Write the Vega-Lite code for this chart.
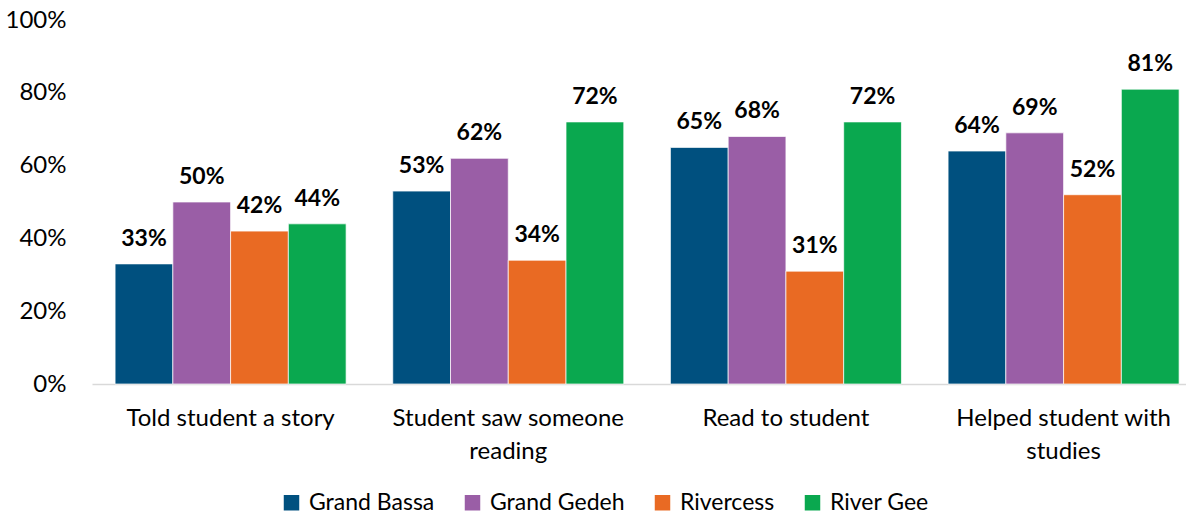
{
  "$schema": "https://vega.github.io/schema/vega-lite/v6.json",
  "autosize": {"type": "none"},
  "width": 1094,
  "height": 364,
  "padding": {"left": 92, "top": 20, "right": 0, "bottom": 132},
  "background": "white",
  "config": {"view": {"stroke": null}, "font": "Lato"},
  "data": {
    "values": [
      {"cat": "Told student a story", "region": "Grand Bassa", "v": 0.33},
      {"cat": "Told student a story", "region": "Grand Gedeh", "v": 0.50},
      {"cat": "Told student a story", "region": "Rivercess", "v": 0.42},
      {"cat": "Told student a story", "region": "River Gee", "v": 0.44},
      {"cat": "Student saw someone reading", "region": "Grand Bassa", "v": 0.53},
      {"cat": "Student saw someone reading", "region": "Grand Gedeh", "v": 0.62},
      {"cat": "Student saw someone reading", "region": "Rivercess", "v": 0.34},
      {"cat": "Student saw someone reading", "region": "River Gee", "v": 0.72},
      {"cat": "Read to student", "region": "Grand Bassa", "v": 0.65},
      {"cat": "Read to student", "region": "Grand Gedeh", "v": 0.68},
      {"cat": "Read to student", "region": "Rivercess", "v": 0.31},
      {"cat": "Read to student", "region": "River Gee", "v": 0.72},
      {"cat": "Helped student with studies", "region": "Grand Bassa", "v": 0.64},
      {"cat": "Helped student with studies", "region": "Grand Gedeh", "v": 0.69},
      {"cat": "Helped student with studies", "region": "Rivercess", "v": 0.52},
      {"cat": "Helped student with studies", "region": "River Gee", "v": 0.81}
    ]
  },
  "encoding": {
    "x": {
      "field": "cat", "type": "nominal",
      "sort": ["Told student a story", "Student saw someone reading", "Read to student", "Helped student with studies"],
      "scale": {"paddingInner": 0.168, "paddingOuter": 0.054, "align": 0.77},
      "axis": {
        "title": null, "labelAngle": 0, "labelFontSize": 24, "labelColor": "#000000",
        "labelPadding": 34, "labelLimit": 0, "ticks": false, "domainColor": "#d9d9d9", "domainWidth": 1.5,
        "labelLineHeight": 33, "labelBaseline": "middle",
        "labelExpr": "datum.label == 'Student saw someone reading' ? ['Student saw someone', 'reading'] : datum.label == 'Helped student with studies' ? ['Helped student with', 'studies'] : datum.label"
      }
    },
    "xOffset": {"field": "region", "type": "nominal", "sort": ["Grand Bassa", "Grand Gedeh", "Rivercess", "River Gee"]},
    "y": {
      "field": "v", "type": "quantitative",
      "scale": {"domain": [0, 1], "nice": false},
      "axis": {
        "title": null, "values": [0, 0.2, 0.4, 0.6, 0.8, 1], "format": ".0%",
        "labelFontSize": 24, "labelColor": "#000000", "grid": false, "domain": false, "ticks": false,
        "labelPadding": 26
      }
    }
  },
  "layer": [
    {
      "mark": {"type": "bar", "stroke": "white", "strokeWidth": 0.7},
      "encoding": {
        "color": {
          "field": "region", "type": "nominal",
          "sort": ["Grand Bassa", "Grand Gedeh", "Rivercess", "River Gee"],
          "scale": {"domain": ["Grand Bassa", "Grand Gedeh", "Rivercess", "River Gee"], "range": ["#00507F", "#9A5EA6", "#E96A23", "#0AA84F"]},
          "legend": {
            "title": null, "orient": "none", "direction": "horizontal",
            "legendX": 188, "legendY": 471, "labelFontSize": 23, "labelColor": "#000000",
            "symbolType": "square", "symbolSize": 240, "symbolStrokeWidth": 0, "columnPadding": 26, "labelOffset": 6
          }
        }
      }
    },
    {
      "mark": {"type": "text", "fontWeight": "bold", "fontSize": 23, "baseline": "alphabetic", "dy": -18, "color": "#000000"},
      "encoding": {"text": {"field": "v", "type": "quantitative", "format": ".0%"}}
    }
  ]
}
